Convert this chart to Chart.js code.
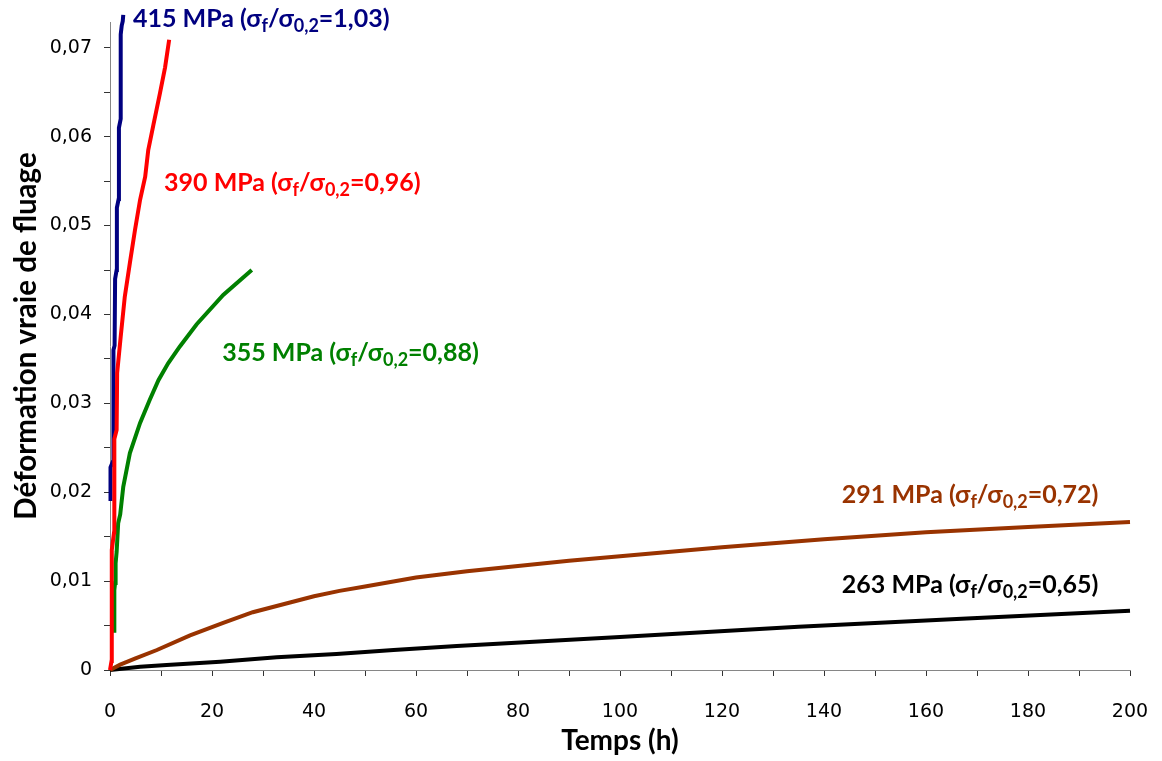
<!DOCTYPE html>
<html>
<head>
<meta charset="utf-8">
<script src="https://cdn.jsdelivr.net/npm/chart.js@4/dist/chart.umd.min.js"></script>
<style>
  body { margin: 0; background: #fff; }
  #wrap { width: 1162px; height: 761px; }
</style>
</head>
<body>
<div id="wrap"><canvas id="creepChart" width="1162" height="761"></canvas></div>
<script>
// creep curves: [time (h), true creep strain]
const s415 = [[0.1,0.019],[0.1,0.0228],[0.6,0.0235],[0.65,0.033],[0.7,0.036],[0.9,0.0365],[1.0,0.044],[1.3,0.045],[1.35,0.052],[1.7,0.053],[1.75,0.061],[2.1,0.062],[2.1,0.0715],[2.3,0.0725],[2.5,0.073],[2.6,0.0737]];
const s390 = [[0,0],[0.3,0.001],[0.35,0.0135],[0.8,0.0155],[0.85,0.026],[1.3,0.027],[1.4,0.0334],[2.1,0.0375],[2.9,0.042],[3.9,0.0458],[4.9,0.0495],[5.9,0.0529],[6.9,0.0555],[7.5,0.0585],[8.5,0.0613],[9.8,0.0649],[10.8,0.0678],[11.6,0.0709]];
const s355 = [[0.85,0.0042],[0.85,0.009],[1.0,0.0098],[1.1,0.012],[1.3,0.0133],[1.6,0.0165],[2.0,0.0175],[2.6,0.0206],[3.9,0.0244],[5.9,0.0278],[7.8,0.0304],[9.5,0.0326],[11.4,0.0345],[13.7,0.0364],[17.0,0.0389],[22.2,0.0422],[27.8,0.045]];
const s291 = [[0,0],[2,0.0006],[5,0.0013],[9.2,0.00225],[15.7,0.0039],[22.2,0.0053],[28,0.0065],[35.3,0.0076],[40,0.0083],[45,0.0089],[50,0.0094],[60,0.0104],[70,0.0111],[80,0.0117],[90,0.0123],[100,0.0128],[120,0.0138],[140,0.0147],[160,0.0155],[180,0.0161],[200,0.01665]];
const s263 = [[0,0],[5.9,0.00037],[11.1,0.00056],[21.6,0.00094],[32.7,0.00143],[44.4,0.0018],[55.6,0.00225],[68,0.0027],[100,0.0037],[135,0.00487],[168,0.0058],[200,0.00667]];

const stressLabels = ['415 MPa', '390 MPa', '355 MPa', '291 MPa', '263 MPa'];
const stressRatios = ['1,03', '0,96', '0,88', '0,72', '0,65'];

const xTicks = [0, 10, 20, 30, 40, 50, 60, 70, 80, 90, 100, 110, 120, 130, 140, 150, 160, 170, 180, 190, 200];
const yTicks = [0, 0.005, 0.01, 0.015, 0.02, 0.025, 0.03, 0.035, 0.04, 0.045, 0.05, 0.055, 0.06, 0.065, 0.07];

const xTitle = 'Temps (h)';
const yTitle = 'Déformation vraie de fluage';

// styling / layout
const colors = ['#000080', '#ff0000', '#008000', '#993300', '#000000'];
const labelAnchorX = [4.5, 10.6, 22.0, 143.5, 143.5];
const labelAnchorY = [0.0723, 0.0539, 0.03476, 0.01878, 0.00866];

const series = [s415, s390, s355, s291, s263];
const drawOrder = [1, 0, 2, 3, 4]; // red over blue

Chart.defaults.font.family = '"DejaVu Sans", Verdana, sans-serif';
Chart.defaults.color = '#000';

function toPoints(arr) {
    return arr.map(p => ({ x: p[0], y: p[1] }));
}

function drawRich(ctx, parts, x, y, size) {
    let cx = x;
    parts.forEach(p => {
        const fs = p.sub ? Math.round(size * 0.72) : size;
        ctx.font = 'bold ' + fs + 'px Lato, "Open Sans", sans-serif';
        ctx.fillText(p.t, cx, p.sub ? y + 5 : y);
        cx += ctx.measureText(p.t).width;
    });
}

const textPlugin = {
    id: 'creepText',
    afterDraw(chart) {
        const ctx = chart.ctx;
        const xs = chart.scales.x, ys = chart.scales.y;
        ctx.save();
        ctx.fillStyle = '#000';
        ctx.textBaseline = 'alphabetic';
        ctx.textAlign = 'center';
        ctx.font = 'bold 28px Lato, "Open Sans", sans-serif';
        ctx.fillText(xTitle, (chart.chartArea.left + chart.chartArea.right) / 2, 750);
        ctx.save();
        ctx.translate(36, 336);
        ctx.rotate(-Math.PI / 2);
        ctx.font = 'bold 29.5px Lato, "Open Sans", sans-serif';
        ctx.fillText(yTitle, 0, 0);
        ctx.restore();

        ctx.textAlign = 'left';
        stressLabels.forEach((lab, i) => {
            ctx.fillStyle = colors[i];
            const px = xs.getPixelForValue(labelAnchorX[i]);
            const py = ys.getPixelForValue(labelAnchorY[i]);
            drawRich(ctx, [
                { t: lab + ' (σ' },
                { t: 'f', sub: true },
                { t: '/σ' },
                { t: '0,2', sub: true },
                { t: '=' + stressRatios[i] + ')' }
            ], px, py, 25);
        });
        ctx.restore();
    }
};

const ctx = document.getElementById('creepChart').getContext('2d');
new Chart(ctx, {
    type: 'scatter',
    data: {
        datasets: series.map((s, i) => ({
            label: stressLabels[i],
            data: toPoints(s),
            showLine: true,
            borderColor: colors[i],
            backgroundColor: colors[i],
            borderWidth: 4,
            pointRadius: 0,
            tension: 0,
            clip: false,
            order: drawOrder[i]
        }))
    },
    options: {
        responsive: false,
        devicePixelRatio: 1,
        animation: false,
        layout: { padding: { left: 0, right: 32, top: 22, bottom: 0 } },
        plugins: {
            legend: { display: false },
            tooltip: { enabled: false }
        },
        scales: {
            x: {
                type: 'linear',
                min: 0,
                max: 200,
                afterBuildTicks: scale => { scale.ticks = xTicks.map(v => ({ value: v })); },
                afterFit: scale => {
                    scale.height = 91;
                    scale.paddingLeft = 0;
                    scale.paddingRight = 0;
                },
                ticks: {
                    maxRotation: 0,
                    autoSkip: false,
                    padding: 25,
                    font: { size: 19 },
                    callback: v => (v % 20 === 0 ? String(v) : '')
                },
                grid: { drawOnChartArea: false, drawTicks: true, tickLength: 6, color: '#333' },
                border: { color: '#868686', width: 1 }
            },
            y: {
                min: 0,
                max: 0.0729,
                afterBuildTicks: scale => { scale.ticks = yTicks.map(v => ({ value: v })); },
                afterFit: scale => {
                    scale.width = 110;
                    scale.paddingTop = 0;
                    scale.paddingBottom = 0;
                },
                ticks: {
                    autoSkip: false,
                    padding: 12,
                    font: { size: 19 },
                    callback: v => {
                        const k = Math.round(v * 1000);
                        if (k % 10 !== 0) return '';
                        return k === 0 ? '0' : (k / 1000).toFixed(2).replace('.', ',');
                    }
                },
                grid: { drawOnChartArea: false, drawTicks: true, tickLength: 6, color: '#333' },
                border: { color: '#868686', width: 1 }
            }
        }
    },
    plugins: [textPlugin]
});
</script>
</body>
</html>
